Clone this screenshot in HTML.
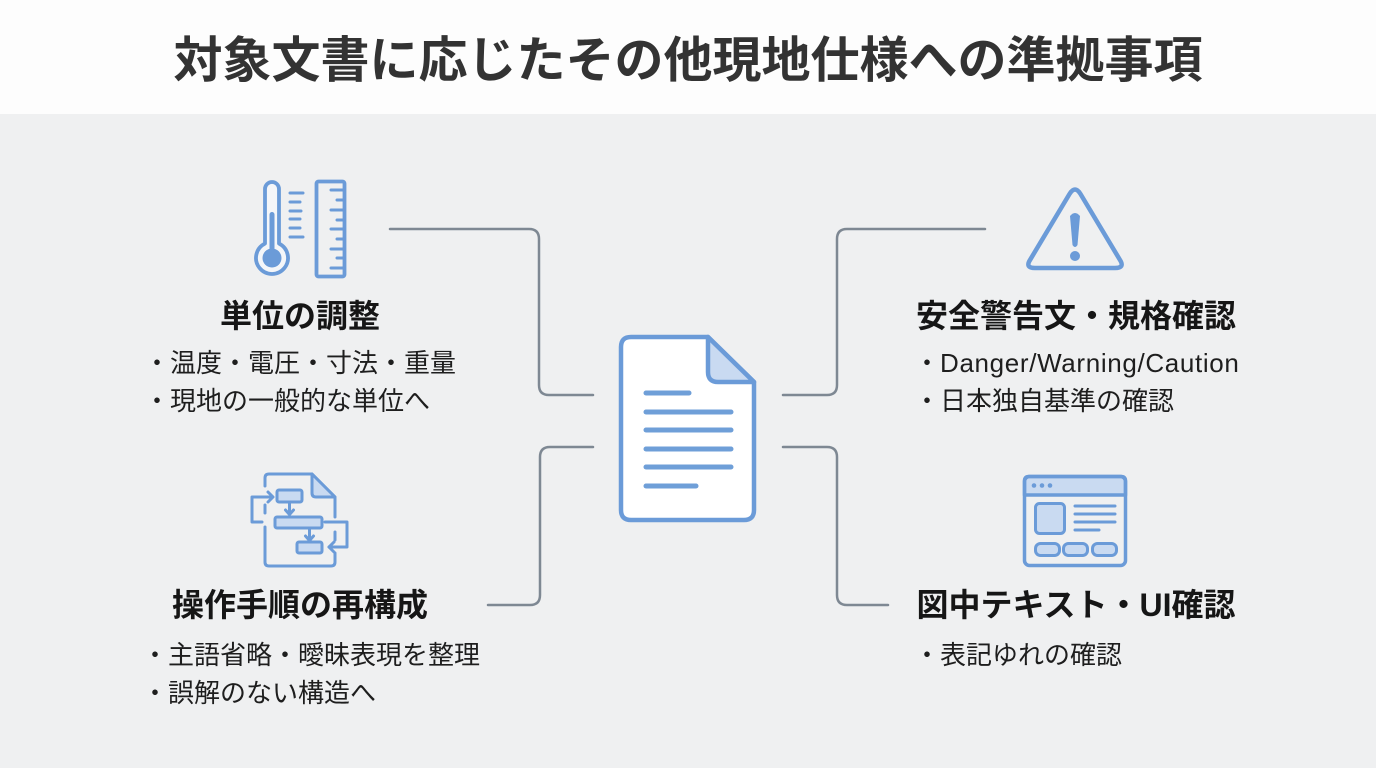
<!DOCTYPE html>
<html lang="ja">
<head>
<meta charset="utf-8">
<style>
  html,body{margin:0;padding:0;}
  body{width:1376px;height:768px;position:relative;overflow:hidden;background:#eff0f1;
    font-family:"Liberation Sans","Noto Sans CJK JP",sans-serif;color:#1c1c1c;}
  .header{position:absolute;left:0;top:0;width:1376px;height:114px;background:#fdfdfd;}
  .title{position:absolute;left:0;top:37px;width:1376px;text-align:center;font-size:49px;line-height:49px;
    font-weight:700;color:#333;white-space:nowrap;}
  .h{position:absolute;font-size:32px;line-height:32px;font-weight:700;color:#161616;text-align:center;white-space:nowrap;}
  .b{position:absolute;font-size:26px;line-height:26px;color:#1e1e1e;white-space:nowrap;}
  svg{position:absolute;left:0;top:0;}
</style>
</head>
<body>
<div class="header"></div>
<div class="title">対象文書に応じたその他現地仕様への準拠事項</div>

<svg width="1376" height="768" viewBox="0 0 1376 768">
  <!-- connectors -->
  <g fill="none" stroke="#7e8893" stroke-width="2.5" stroke-linecap="round">
    <path d="M390 229 H529 Q539 229 539 239 V385 Q539 395 549 395 H593"/>
    <path d="M593 447 H550 Q540 447 540 457 V595 Q540 605 530 605 H488"/>
    <path d="M783 395 H827 Q837 395 837 385 V239 Q837 229 847 229 H985"/>
    <path d="M783 447 H827 Q837 447 837 457 V595 Q837 605 847 605 H888"/>
  </g>

  <!-- central document -->
  <g stroke="#6b9bd8" stroke-width="4.5" stroke-linejoin="round" stroke-linecap="round">
    <path d="M708 337 H631 Q621 337 621 347 V510 Q621 520 631 520 H744 Q754 520 754 510 V382 Z" fill="#ffffff"/>
    <path d="M708 337 V372 Q708 382 718 382 H754 Z" fill="#c9daf1"/>
  </g>
  <g stroke="#6f9fd8" stroke-width="5" stroke-linecap="round">
    <line x1="646" y1="393" x2="689" y2="393"/>
    <line x1="646" y1="412" x2="731" y2="412"/>
    <line x1="646" y1="430" x2="731" y2="430"/>
    <line x1="646" y1="449" x2="731" y2="449"/>
    <line x1="646" y1="467" x2="731" y2="467"/>
    <line x1="646" y1="486" x2="696" y2="486"/>
  </g>

  <!-- thermometer + ruler -->
  <g stroke="#6b9bd8" fill="none" stroke-width="3.8" stroke-linecap="round" stroke-linejoin="round">
    <path d="M265 243.6 V189 A7 7 0 0 1 279 189 V243.6 A16 16 0 1 1 265 243.6 Z" fill="#f4f6f9"/>
    <line x1="290" y1="193" x2="303" y2="193" stroke-width="3"/>
    <line x1="290" y1="202" x2="300" y2="202" stroke-width="3"/>
    <line x1="290" y1="211" x2="301" y2="211" stroke-width="3"/>
    <line x1="290" y1="219" x2="300" y2="219" stroke-width="3"/>
    <line x1="290" y1="228" x2="300" y2="228" stroke-width="3"/>
    <line x1="290" y1="237" x2="303" y2="237" stroke-width="3"/>
    <rect x="316.5" y="181.5" width="28" height="95" rx="2"/>
    <g stroke-width="3">
      <line x1="331" y1="190" x2="343" y2="190"/>
      <line x1="337" y1="200" x2="343" y2="200"/>
      <line x1="331" y1="210" x2="343" y2="210"/>
      <line x1="337" y1="220" x2="343" y2="220"/>
      <line x1="331" y1="229" x2="343" y2="229"/>
      <line x1="337" y1="239" x2="343" y2="239"/>
      <line x1="331" y1="249" x2="343" y2="249"/>
      <line x1="337" y1="258" x2="343" y2="258"/>
      <line x1="331" y1="268" x2="343" y2="268"/>
    </g>
  </g>
  <circle cx="272" cy="258" r="9.5" fill="#6b9bd8"/>
  <rect x="269.5" y="212" width="5" height="44" rx="2.5" fill="#6b9bd8"/>

  <!-- flow icon -->
  <g stroke="#6b9bd8" fill="none" stroke-width="3" stroke-linecap="round" stroke-linejoin="round">
    <path d="M265 486 V478 Q265 474 269 474 H312 L335 497 V517"/>
    <path d="M265 505 V513"/>
    <path d="M265 527 V562 Q265 566 269 566 H331 Q335 566 335 562 V553"/>
    <path d="M335 532 V540"/>
    <path d="M312 474 V493 Q312 497 316 497 H335 Z" fill="#c9daf1"/>
    <path d="M262 522 H252 V497 H272"/>
    <path d="M268 492 L273 497 L268 502"/>
    <path d="M325 522 H347 V547 H329"/>
    <path d="M334 542 L329 547 L334 552"/>
    <rect x="277" y="490" width="25" height="12" rx="2" fill="#c9daf1"/>
    <rect x="275" y="517" width="47" height="11" rx="2" fill="#c9daf1"/>
    <rect x="297" y="542" width="25" height="11" rx="2" fill="#c9daf1"/>
    <path d="M289.5 502 V514"/>
    <path d="M285.5 510 L289.5 514.5 L293.5 510"/>
    <path d="M309.5 528 V540"/>
    <path d="M305.5 536 L309.5 540.5 L313.5 536"/>
  </g>

  <!-- warning triangle -->
  <path d="M1069.5 194 Q1075 185 1080.5 194 L1120 260 Q1125 268 1115 268 H1035 Q1025 268 1030 260 Z"
        fill="none" stroke="#6b9bd8" stroke-width="4.5" stroke-linejoin="round"/>
  <path d="M1070 216 Q1075 210 1080 216 L1077.5 245 Q1075 249 1072.5 245 Z" fill="#6b9bd8"/>
  <circle cx="1075" cy="256" r="5" fill="#6b9bd8"/>

  <!-- UI window icon -->
  <g stroke="#6b9bd8" stroke-width="3.5" stroke-linecap="round" stroke-linejoin="round">
    <path d="M1029 476.5 H1121 Q1125.5 476.5 1125.5 481 V495 H1024.5 V481 Q1024.5 476.5 1029 476.5 Z" fill="#c9daf1"/>
    <rect x="1024.5" y="476.5" width="101" height="89" rx="5" fill="none"/>
    <rect x="1035.5" y="503.5" width="29" height="30" rx="4" fill="#c9daf1" stroke-width="3"/>
    <g stroke-width="3">
      <line x1="1075" y1="506" x2="1115" y2="506"/>
      <line x1="1075" y1="514" x2="1115" y2="514"/>
      <line x1="1075" y1="522" x2="1115" y2="522"/>
      <line x1="1075" y1="530" x2="1099" y2="530"/>
    </g>
    <rect x="1035.5" y="543.5" width="24" height="12" rx="5" fill="#c9daf1" stroke-width="3"/>
    <rect x="1063.5" y="543.5" width="24" height="12" rx="5" fill="#c9daf1" stroke-width="3"/>
    <rect x="1092.5" y="543.5" width="24" height="12" rx="5" fill="#c9daf1" stroke-width="3"/>
  </g>
  <g fill="#6b9bd8">
    <circle cx="1034" cy="485.5" r="2.3"/>
    <circle cx="1042" cy="485.5" r="2.3"/>
    <circle cx="1050" cy="485.5" r="2.3"/>
  </g>
</svg>

<!-- left top -->
<div class="h" style="left:100px;top:300px;width:400px;">単位の調整</div>
<div class="b" style="left:144px;top:350px;">・温度・電圧・寸法・重量</div>
<div class="b" style="left:144px;top:388px;">・現地の一般的な単位へ</div>

<!-- left bottom -->
<div class="h" style="left:100px;top:589px;width:400px;">操作手順の再構成</div>
<div class="b" style="left:142px;top:642px;">・主語省略・曖昧表現を整理</div>
<div class="b" style="left:142px;top:680px;">・誤解のない構造へ</div>

<!-- right top -->
<div class="h" style="left:876px;top:300px;width:400px;">安全警告文・規格確認</div>
<div class="b" style="left:914px;top:350px;">・<span style="letter-spacing:0.65px;">Danger/Warning/Caution</span></div>
<div class="b" style="left:914px;top:388px;">・日本独自基準の確認</div>

<!-- right bottom -->
<div class="h" style="left:876px;top:589px;width:400px;">図中テキスト・UI確認</div>
<div class="b" style="left:914px;top:642px;">・表記ゆれの確認</div>
</body>
</html>
